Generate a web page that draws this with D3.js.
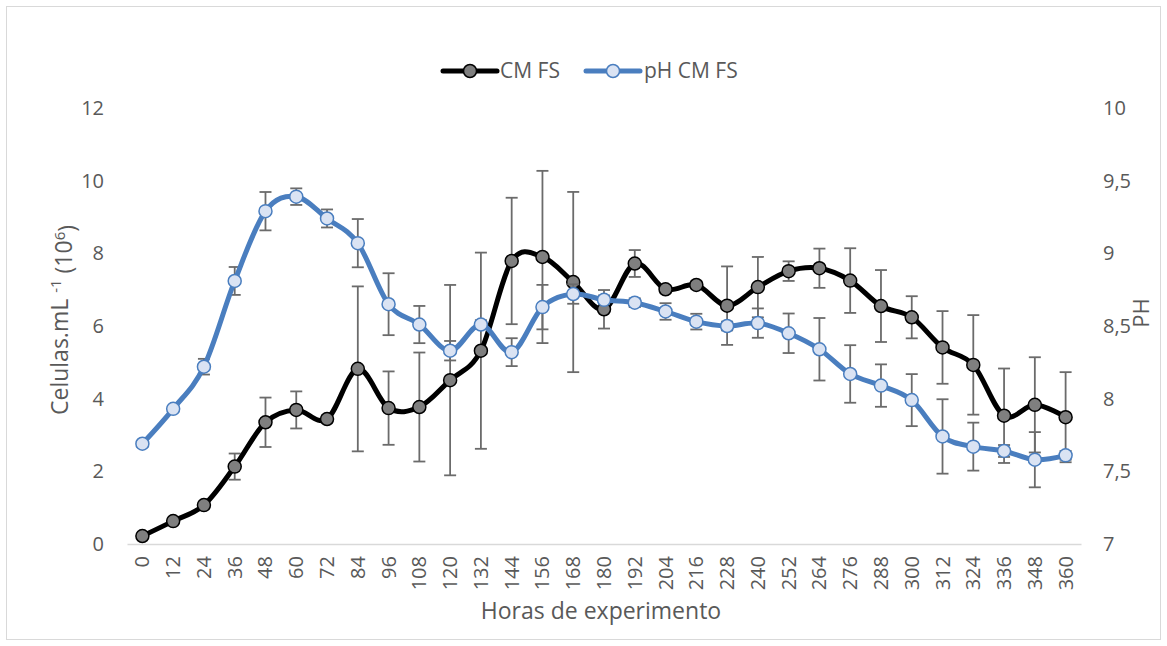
<!DOCTYPE html>
<html>
<head>
<meta charset="utf-8">
<script src="https://cdn.jsdelivr.net/npm/d3@7"></script>
<style>
  html, body { margin: 0; padding: 0; background: #fff; }
  svg { display: block; }
  text { font-family: "Open Sans", "Noto Sans", sans-serif; fill: #595959; }
</style>
</head>
<body>
<svg id="chart" width="1167" height="646"></svg>
<script>
// Sampling times (hours)
const hours = ["0","12","24","36","48","60","72","84","96","108","120","132","144","156","168","180",
               "192","204","216","228","240","252","264","276","288","300","312","324","336","348","360"];

// Cell density, cells/mL (x10^6)
const cellValues = [0.22, 0.63, 1.07, 2.13, 3.35, 3.69, 3.44, 4.82, 3.74, 3.77, 4.51, 5.32, 7.79, 7.90, 7.21, 6.46,
                    7.72, 7.01, 7.13, 6.56, 7.07, 7.51, 7.59, 7.25, 6.55, 6.24, 5.41, 4.93, 3.53, 3.83, 3.49];
const cellErrors = [0.05, 0.05, 0.05, 0.36, 0.68, 0.51, 0.10, 2.27, 1.01, 1.50, 2.62, 2.70, 1.74, 2.37, 2.48, 0.53,
                    0.37, 0.10, 0.10, 1.08, 0.83, 0.27, 0.54, 0.89, 0.99, 0.58, 1.00, 1.37, 1.30, 1.31, 1.24];

// pH of the culture
const phValues = [7.69, 7.93, 8.22, 8.81, 9.29, 9.39, 9.24, 9.07, 8.65, 8.51, 8.33, 8.51, 8.32, 8.63, 8.72, 8.68,
                  8.66, 8.60, 8.53, 8.50, 8.52, 8.45, 8.34, 8.17, 8.09, 7.99, 7.74, 7.67, 7.64, 7.58, 7.61];
const phErrors = [0.02, 0.02, 0.054, 0.096, 0.132, 0.057, 0.062, 0.166, 0.213, 0.128, 0.067, 0.03, 0.096, 0.153, 0.067, 0.03,
                  0.03, 0.057, 0.054, 0.03, 0.101, 0.136, 0.215, 0.198, 0.146, 0.179, 0.256, 0.165, 0.041, 0.19, 0.03];

// Axis ticks
const leftTicks = [0, 2, 4, 6, 8, 10, 12];
const rightTicks = [7, 7.5, 8, 8.5, 9, 9.5, 10];

const seriesNames = ["CM FS", "pH CM FS"];

const svg = d3.select("#chart");

// Chart area border
svg.append("rect")
  .attr("x", 6.5).attr("y", 6.5)
  .attr("width", 1154).attr("height", 633)
  .attr("fill", "#fff").attr("stroke", "#d9d9d9").attr("stroke-width", 1);

const plot = { left: 127, right: 1081, top: 108, bottom: 544 };

const x = d3.scaleBand().domain(hours).range([plot.left, plot.right]).padding(0);
const cx = h => x(h) + x.bandwidth() / 2;
const yL = d3.scaleLinear().domain([0, 12]).range([plot.bottom, plot.top]);
const yR = d3.scaleLinear().domain([7, 10]).range([plot.bottom, plot.top]);

const tickFont = "20px";

// Bottom axis
const xAxis = svg.append("g")
  .attr("transform", `translate(0,${plot.bottom})`)
  .call(d3.axisBottom(x).tickSize(0).tickSizeOuter(0));
xAxis.select(".domain").attr("stroke", "#d9d9d9").attr("stroke-width", 1.5);
xAxis.selectAll(".tick text")
  .attr("transform", "rotate(-90)")
  .attr("text-anchor", "end")
  .attr("x", -12).attr("y", 0).attr("dy", "0.35em")
  .style("font-size", tickFont).style("font-family", "'Open Sans', sans-serif").attr("fill", "#595959");

// Left axis
const leftAxis = svg.append("g")
  .attr("transform", `translate(${plot.left},0)`)
  .call(d3.axisLeft(yL).tickValues(leftTicks).tickSize(0).tickPadding(23));
leftAxis.select(".domain").remove();
leftAxis.selectAll(".tick text")
  .style("font-size", tickFont).style("font-family", "'Open Sans', sans-serif").attr("fill", "#595959");

// Right axis
const rightAxis = svg.append("g")
  .attr("transform", `translate(${plot.right},0)`)
  .call(d3.axisRight(yR).tickValues(rightTicks).tickSize(0).tickPadding(22)
    .tickFormat(d => String(d).replace(".", ",")));
rightAxis.select(".domain").remove();
rightAxis.selectAll(".tick text")
  .style("font-size", tickFont).style("font-family", "'Open Sans', sans-serif").attr("fill", "#595959");

// Axis titles
svg.append("text")
  .attr("x", 601).attr("y", 619)
  .attr("text-anchor", "middle")
  .style("font-size", "23px")
  .text("Horas de experimento");

const yTitle = svg.append("text")
  .attr("transform", "translate(68,320) rotate(-90)")
  .attr("text-anchor", "middle")
  .style("font-size", "23px");
yTitle.append("tspan").text("Celulas.mL ");
yTitle.append("tspan").attr("dy", "-0.45em").style("font-size", "15px").text("-1");
yTitle.append("tspan").attr("dy", "0.45em").text(" (10");
yTitle.append("tspan").attr("dy", "-0.45em").style("font-size", "15px").text("6");
yTitle.append("tspan").attr("dy", "0.45em").text(")");

svg.append("text")
  .attr("transform", "translate(1149,313) rotate(-90)")
  .attr("text-anchor", "middle")
  .style("font-size", "22px")
  .text("PH");

// Series drawing
const lineColorCells = "#000000";
const lineColorPh = "#4a7ebf";
const errColor = "#6b6b6b";
const curve = d3.curveCardinal.tension(0);

function drawSeries(values, errors, yScale, lineColor, lineWidth, markerFill, markerStroke) {
  const g = svg.append("g");
  const errG = g.append("g");
  hours.forEach((h, i) => {
    const px = cx(h);
    const y1 = yScale(values[i] + errors[i]);
    const y2 = yScale(values[i] - errors[i]);
    errG.append("line").attr("x1", px).attr("x2", px).attr("y1", y1).attr("y2", y2)
      .attr("stroke", errColor).attr("stroke-width", 1.8);
    [y1, y2].forEach(yy => {
      errG.append("line").attr("x1", px - 6).attr("x2", px + 6).attr("y1", yy).attr("y2", yy)
        .attr("stroke", errColor).attr("stroke-width", 1.8);
    });
  });
  const line = d3.line().x((d, i) => cx(hours[i])).y(d => yScale(d)).curve(curve);
  g.append("path").datum(values)
    .attr("d", line)
    .attr("fill", "none").attr("stroke", lineColor).attr("stroke-width", lineWidth)
    .attr("stroke-linejoin", "round").attr("stroke-linecap", "round");
  g.selectAll("circle.m").data(values).enter().append("circle")
    .attr("cx", (d, i) => cx(hours[i])).attr("cy", d => yScale(d)).attr("r", 6.5)
    .attr("fill", markerFill).attr("stroke", markerStroke).attr("stroke-width", 1.5);
}

drawSeries(cellValues, cellErrors, yL, lineColorCells, 5, "#7f7f7f", "#000");
drawSeries(phValues, phErrors, yR, lineColorPh, 5, "#dae3f3", "#4a7ebf");

// Legend
const legend = svg.append("g");
const legendItems = [
  { name: seriesNames[0], x0: 443, color: lineColorCells, fill: "#7f7f7f", stroke: "#000", tx: 500 },
  { name: seriesNames[1], x0: 586, color: lineColorPh, fill: "#dae3f3", stroke: "#4a7ebf", tx: 644 }
];
legendItems.forEach(it => {
  legend.append("line").attr("x1", it.x0).attr("x2", it.x0 + 54).attr("y1", 71).attr("y2", 71)
    .attr("stroke", it.color).attr("stroke-width", 5).attr("stroke-linecap", "round");
  legend.append("circle").attr("cx", it.x0 + 27).attr("cy", 71).attr("r", 6.5)
    .attr("fill", it.fill).attr("stroke", it.stroke).attr("stroke-width", 1.5);
  legend.append("text").attr("x", it.tx).attr("y", 71).attr("dy", "0.35em")
    .style("font-size", "21px").text(it.name);
});
</script>
</body>
</html>
